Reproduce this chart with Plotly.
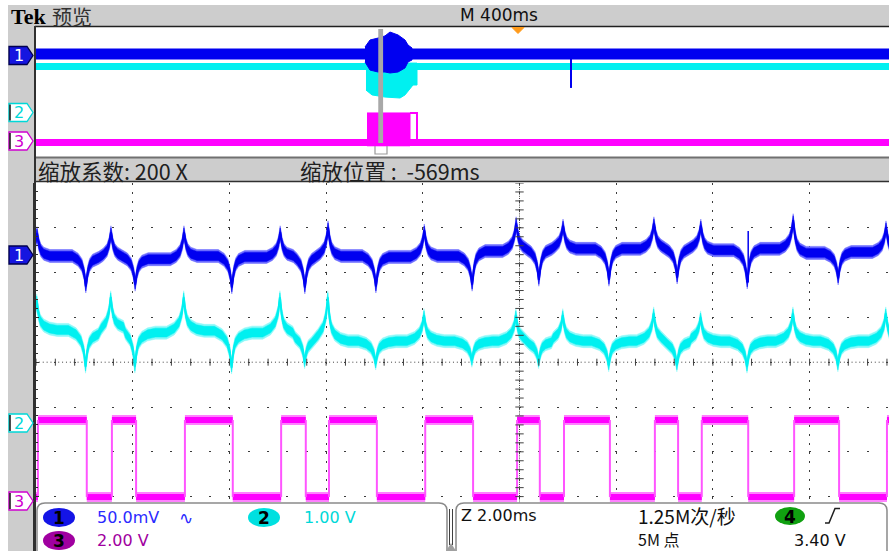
import plotly.graph_objects as go
import numpy as np

W, H = 889, 551

# ================= DATA =================
# Zoomed window (Z 2.00 ms/div): time in ms relative to the zoom position, amplitude in screen divisions
ch3_rise_ms = [-9.96, -8.43, -6.92, -4.93, -3.94, -1.95, -0.05, 0.92, 2.80, 3.77, 5.68, 7.60]
ch3_fall_ms = [-8.95, -7.93, -5.93, -4.42, -2.95, -0.96, 0.42, 1.87, 3.28, 4.73, 6.61]
ch3_high_div = -1.29
ch3_low_div = -3.01

# channel 1: spike tops at ch3 rising edges, bottoms at falling edges, baseline after each edge
ch1_peak_div = [2.88, 2.90, 2.90, 2.90, 3.01, 2.94, 3.10, 3.05, 3.10, 3.05, 3.17, 3.01]
ch1_dip_div = [1.69, 1.73, 1.67, 1.67, 1.69, 1.73, 1.84, 1.84, 1.89, 1.78, 1.87]
ch1_base_div = [2.37, 2.33, 2.37, 2.30, 2.37, 2.35, 2.37, 2.35, 2.37, 2.35, 2.37, 2.48,
                2.53, 2.53, 2.53, 2.53, 2.55, 2.53, 2.50, 2.53, 2.44, 2.46, 2.46]
ch1_glitch_ms = [4.73]
ch1_glitch_top_div = [2.93]

# channel 2
ch2_peak_div = [1.38, 1.45, 1.45, 1.45, 1.45, 1.05, 1.05, 1.05, 1.09, 1.00, 1.09, 1.09]
ch2_dip_div = [-0.10, -0.10, -0.12, 0.00, -0.03, 0.03, 0.00, -0.07, -0.07, -0.10, -0.07]
ch2_base_div = [0.72, 0.66, 0.75, 0.66, 0.70, 0.66, 0.62, 0.50, 0.47, 0.47, 0.47, 0.47,
                0.47, 0.47, 0.47, 0.47, 0.47, 0.47, 0.47, 0.47, 0.47, 0.47, 0.47]
noise_half_div = 0.10
halo_half_div = 0.145

# spike shapes: offset from edge (ms) and fraction of spike height
ch1_lead_ms = [-0.30, -0.18, -0.10, -0.05, -0.02]
ch1_lead_frac = [0.0, 0.12, 0.30, 0.60, 1.0]
ch1_tail_ms = [-0.02, 0.02, 0.06, 0.12, 0.25]
ch1_tail_frac = [1.0, 0.50, 0.25, 0.10, 0.0]
ch2_lead_ms = [-0.38, -0.22, -0.12, -0.06, -0.025]
ch2_lead_frac = [0.0, 0.12, 0.30, 0.58, 1.0]
ch2_tail_ms = [-0.025, 0.01, 0.05, 0.12, 0.24, 0.40]
ch2_tail_frac = [1.0, 0.55, 0.30, 0.15, 0.05, 0.0]

# Preview (M 400 ms/div): time in ms relative to trigger, amplitude in preview divisions
prev_ch1_div = 2.34
prev_ch2_div = 1.57
prev_ch3_div = -3.11
prev_ch3_high_div = -1.29
burst1_ms = [-632.9, -612.2, -579.1, -550.2, -529.5, -496.4, -467.4, -455.0, -438.5]
burst1_top_div = [2.77, 3.20, 3.32, 3.45, 3.69, 3.51, 3.20, 2.89, 2.71]
burst1_bot_div = [1.85, 1.35, 1.23, 1.23, 1.17, 1.23, 1.48, 1.85, 1.97]
burst2_ms = [-628.8, -603.9, -550.2, -488.1, -467.4, -446.7, -434.3, -417.8]
burst2_bot_div = [0.12, -0.18, -0.31, -0.37, -0.18, 0.25, 0.43, 0.43]
burst2_top_div = 1.78
burst3_block_ms = [-624.6, -446.7]
burst3_pulse_ms = [-446.7, -417.8]
glitch_prev_ms = [219.2]
glitch_prev_low_div = [0.25]
zoom_pos_ms = -569

# readouts
header_left = "预览"
header_mid = "M 400ms"
zoom_factor_txt = "缩放系数: 200 X"
zoom_pos_txt = "缩放位置 :  -569ms"
ch1_scale = "50.0mV"
ch2_scale = "1.00 V"
ch3_scale = "2.00 V"
timebase_txt = "Z 2.00ms"
rate_txt = "1.25M次/秒"
points_txt = "5M 点"
trig_txt = "3.40 V"

# ================= GEOMETRY =================
def X(px):
    return px / W

def Y(py):
    return 1 - py / H

def pth(pts, close=False):
    s = "M " + " L ".join(f"{X(a):.5f},{Y(b):.5f}" for a, b in pts)
    return s + (" Z" if close else "")

M_LEFT, M_TOP = 35, 183
PX_PER_MS = 48.35
PX_PER_DIV = 44.8
CX, CY = 519.5, 362.2
mx_range = [(M_LEFT - CX) / PX_PER_MS, (W - CX) / PX_PER_MS]
my_range = [-(H - CY) / PX_PER_DIV, (CY - M_TOP) / PX_PER_DIV]

P_TOP, P_BOT = 27, 157
P_PX_PER_MS = 0.24175
P_TRIG = 518
px_range = [(M_LEFT - P_TRIG) / P_PX_PER_MS, (W - P_TRIG) / P_PX_PER_MS]

# ================= WAVE BUILDER =================
def build_wave(peaks, dips, bases, lead_ms, lead_fr, tail_ms, tail_fr):
    ev = sorted([(t, v) for t, v in zip(ch3_rise_ms, peaks)] +
                [(t, v) for t, v in zip(ch3_fall_ms, dips)])
    times = [e[0] for e in ev]
    cx, cy = [mx_range[0] - 1], [bases[0]]
    for k, (t, v) in enumerate(ev):
        before = bases[k - 1] if k > 0 else bases[0]
        after = bases[k]
        lo = (times[k - 1] + t) / 2 if k > 0 else -1e9
        hi = (times[k + 1] + t) / 2 if k + 1 < len(ev) else 1e9
        for dx, f in zip(lead_ms, lead_fr):
            tt = t + dx
            if lo < tt and tt > cx[-1]:
                cx.append(tt); cy.append(before + f * (v - before))
        for dx, f in zip(tail_ms, tail_fr):
            tt = t + dx
            if tt < hi and tt >= cx[-1]:
                cx.append(tt); cy.append(after + f * (v - after))
    cx.append(mx_range[1] + 1); cy.append(bases[-1])
    return cx, cy

def band(cx, cy, h):
    return cx + cx[::-1], [v + h for v in cy] + [v - h for v in cy[::-1]]

fig = go.Figure()

# ---------- preview traces ----------
fig.add_trace(go.Scatter(x=[px_range[0] - 10, px_range[1] + 10], y=[prev_ch3_div] * 2, mode="lines",
                         line=dict(color="#FF00FF", width=7), xaxis="x", yaxis="y", hoverinfo="skip"))
bx3 = [burst3_block_ms[0], burst3_block_ms[1], burst3_block_ms[1], burst3_block_ms[0]]
by3 = [prev_ch3_high_div, prev_ch3_high_div, prev_ch3_div - 0.2, prev_ch3_div - 0.2]
fig.add_trace(go.Scatter(x=bx3, y=by3, fill="toself", fillcolor="#FF00FF", mode="lines",
                         line=dict(color="#FF00FF", width=1), xaxis="x", yaxis="y", hoverinfo="skip"))
fig.add_trace(go.Scatter(x=[burst3_pulse_ms[0], burst3_pulse_ms[1], burst3_pulse_ms[1]],
                         y=[prev_ch3_high_div, prev_ch3_high_div, prev_ch3_div],
                         mode="lines", line=dict(color="#FF00FF", width=2), xaxis="x", yaxis="y", hoverinfo="skip"))
fig.add_trace(go.Scatter(x=[px_range[0] - 10, burst2_ms[0], None, burst2_ms[-1], px_range[1] + 10],
                         y=[prev_ch2_div, prev_ch2_div, None, prev_ch2_div, prev_ch2_div], mode="lines",
                         line=dict(color="#00F0F0", width=7), xaxis="x", yaxis="y", hoverinfo="skip"))
fig.add_trace(go.Scatter(x=burst2_ms + burst2_ms[::-1], y=burst2_bot_div + [burst2_top_div] * len(burst2_ms),
                         fill="toself", fillcolor="#00F0F0", mode="lines", line=dict(color="#00F0F0", width=1),
                         xaxis="x", yaxis="y", hoverinfo="skip"))
fig.add_trace(go.Scatter(x=[px_range[0] - 10, px_range[1] + 10], y=[prev_ch1_div] * 2, mode="lines",
                         line=dict(color="#0000F0", width=11), xaxis="x", yaxis="y", hoverinfo="skip"))
fig.add_trace(go.Scatter(x=burst1_ms + burst1_ms[::-1], y=burst1_top_div + burst1_bot_div[::-1],
                         fill="toself", fillcolor="#0000F0", mode="lines", line=dict(color="#0000F0", width=1),
                         xaxis="x", yaxis="y", hoverinfo="skip"))
for t, lo in zip(glitch_prev_ms, glitch_prev_low_div):
    fig.add_trace(go.Scatter(x=[t, t], y=[prev_ch1_div, lo], mode="lines",
                             line=dict(color="#0000F0", width=2), xaxis="x", yaxis="y", hoverinfo="skip"))

# ---------- main window traces ----------
ev3 = sorted([(t, 1) for t in ch3_rise_ms] + [(t, 0) for t in ch3_fall_ms])
hx, hy, lx, ly, vx, vy = [], [], [], [], [], []
prev_t, state = mx_range[0] - 1, 0
for t, s in ev3 + [(mx_range[1] + 1, None)]:
    if state == 1:
        hx += [prev_t, t, None]; hy += [ch3_high_div, ch3_high_div, None]
    else:
        lx += [prev_t, t, None]; ly += [ch3_low_div, ch3_low_div, None]
    if s is not None:
        vx += [t, t, None]; vy += [ch3_low_div, ch3_high_div, None]
        state = s
    prev_t = t
for xs, ys in ((hx, hy), (lx, ly)):
    fig.add_trace(go.Scatter(x=xs, y=ys, mode="lines", line=dict(color="#FF80FF", width=10),
                             xaxis="x2", yaxis="y2", hoverinfo="skip"))
    fig.add_trace(go.Scatter(x=xs, y=ys, mode="lines", line=dict(color="#FF00FF", width=6),
                             xaxis="x2", yaxis="y2", hoverinfo="skip"))
fig.add_trace(go.Scatter(x=vx, y=vy, mode="lines", line=dict(color="#FF55FF", width=2),
                         xaxis="x2", yaxis="y2", hoverinfo="skip"))

for peaks, dips, bases, lms, lfr, tms, tfr, col, light in (
        (ch2_peak_div, ch2_dip_div, ch2_base_div, ch2_lead_ms, ch2_lead_frac, ch2_tail_ms, ch2_tail_frac,
         "#00F0F0", "#8CF8F8"),
        (ch1_peak_div, ch1_dip_div, ch1_base_div, ch1_lead_ms, ch1_lead_frac, ch1_tail_ms, ch1_tail_frac,
         "#0000F0", "#6A6AFF")):
    cx, cy = build_wave(peaks, dips, bases, lms, lfr, tms, tfr)
    for h, c in ((halo_half_div, light), (noise_half_div, col)):
        px_, py_ = band(cx, cy, h)
        fig.add_trace(go.Scatter(x=px_, y=py_, fill="toself", fillcolor=c, mode="lines",
                                 line=dict(color=c, width=0.5), xaxis="x2", yaxis="y2", hoverinfo="skip"))
    fig.add_trace(go.Scatter(x=cx, y=cy, mode="lines", line=dict(color=col, width=2),
                             xaxis="x2", yaxis="y2", hoverinfo="skip"))

for t, top in zip(ch1_glitch_ms, ch1_glitch_top_div):
    base = ch1_dip_div[ch3_fall_ms.index(t)]
    fig.add_trace(go.Scatter(x=[t, t], y=[base, top], mode="lines", line=dict(color="#0000F0", width=1.5),
                             xaxis="x2", yaxis="y2", hoverinfo="skip"))

# graticule centre ticks
gx = np.arange(-10, 8, 0.4)
fig.add_trace(go.Scatter(x=gx, y=[0] * len(gx), mode="markers",
                         marker=dict(symbol="line-ns", size=5, line=dict(color="#404040", width=1)),
                         xaxis="x2", yaxis="y2", hoverinfo="skip"))
gy = np.arange(-4.2, 4.01, 0.2)
fig.add_trace(go.Scatter(x=[0] * len(gy), y=gy, mode="markers",
                         marker=dict(symbol="line-ew", size=6, line=dict(color="#404040", width=1)),
                         xaxis="x2", yaxis="y2", hoverinfo="skip"))

# ================= SHAPES =================
shapes = []
GRAY = "#CDCDCD"
shapes.append(dict(type="rect", xref="paper", yref="paper", x0=X(8), x1=X(M_LEFT), y0=0, y1=Y(5),
                   fillcolor=GRAY, line=dict(width=0), layer="below"))
shapes.append(dict(type="rect", xref="paper", yref="paper", x0=X(8), x1=1, y0=Y(26), y1=Y(5),
                   fillcolor=GRAY, line=dict(width=0), layer="above"))
shapes.append(dict(type="line", xref="paper", yref="paper", x0=X(M_LEFT), x1=1, y0=Y(26.5), y1=Y(26.5),
                   line=dict(color="#202020", width=1.5), layer="above"))
shapes.append(dict(type="rect", xref="paper", yref="paper", x0=X(M_LEFT), x1=1, y0=Y(181), y1=Y(157.5),
                   fillcolor=GRAY, line=dict(width=0), layer="above"))
shapes.append(dict(type="line", xref="paper", yref="paper", x0=X(M_LEFT), x1=1, y0=Y(157.5), y1=Y(157.5),
                   line=dict(color="#707070", width=2), layer="above"))
shapes.append(dict(type="line", xref="paper", yref="paper", x0=X(M_LEFT), x1=1, y0=Y(181.5), y1=Y(181.5),
                   line=dict(color="#303030", width=1.5), layer="above"))
shapes.append(dict(type="line", xref="paper", yref="paper", x0=X(M_LEFT), x1=X(M_LEFT), y0=0, y1=Y(26),
                   line=dict(color="#303030", width=2), layer="above"))
shapes.append(dict(type="line", xref="x2", yref="y2", x0=mx_range[0], x1=mx_range[1], y0=0, y1=0,
                   line=dict(color="#404040", width=1, dash="1px,2.87px"), layer="below"))
shapes.append(dict(type="line", xref="x2", yref="y2", x0=0, x1=0, y0=my_range[0], y1=my_range[1],
                   line=dict(color="#404040", width=1, dash="1px,1.2px"), layer="below"))
shapes.append(dict(type="rect", xref="x", yref="paper", x0=zoom_pos_ms - 9, x1=zoom_pos_ms + 11,
                   y0=Y(143), y1=Y(29), fillcolor="#A8A8A8", line=dict(width=0), layer="above"))
shapes.append(dict(type="path", xref="paper", yref="paper",
                   path=pth([(375, 146), (375, 154), (387, 154), (387, 146)]),
                   line=dict(color="#9A9A9A", width=1.2), layer="above"))
shapes.append(dict(type="path", xref="paper", yref="paper",
                   path=pth([(512, 27.5), (524, 27.5), (518, 33.5)], True),
                   fillcolor="#FF9A1A", line=dict(color="#FF9A1A", width=1), layer="above"))
# readout area
shapes.append(dict(type="rect", xref="paper", yref="paper", x0=X(36), x1=1, y0=0, y1=Y(502.5),
                   fillcolor="white", line=dict(width=0), layer="above"))
for a, b in ((37, 447), (456, 887)):
    shapes.append(dict(type="path", xref="paper", yref="paper",
                       path=(f"M {X(a):.5f},{Y(560):.5f} L {X(a):.5f},{Y(511):.5f} "
                             f"Q {X(a):.5f},{Y(503):.5f} {X(a + 8):.5f},{Y(503):.5f} "
                             f"L {X(b - 8):.5f},{Y(503):.5f} Q {X(b):.5f},{Y(503):.5f} {X(b):.5f},{Y(511):.5f} "
                             f"L {X(b):.5f},{Y(560):.5f}"),
                       line=dict(color="#8A8A8A", width=1.5), layer="above"))
for xx in (449.5, 452.5):
    shapes.append(dict(type="line", xref="paper", yref="paper", x0=X(xx), x1=X(xx), y0=Y(545), y1=Y(509),
                       line=dict(color="#404040", width=1), layer="above"))
shapes.append(dict(type="path", xref="paper", yref="paper", path=pth([(446, 551), (456, 551), (451, 543)], True),
                   fillcolor="#A0A0A0", line=dict(width=0), layer="above"))
ovals = [((43, 75, 508, 527), "#1414E6", "1"), ((248, 280, 508, 527), "#00E0E0", "2"),
         ((43, 75, 531, 550), "#A000A0", "3"), ((775, 805, 507, 525), "#10A010", "4")]
for (x0, x1, y0, y1), col, _ in ovals:
    shapes.append(dict(type="circle", xref="paper", yref="paper", x0=X(x0), x1=X(x1), y0=Y(y1), y1=Y(y0),
                       fillcolor=col, line=dict(width=0), layer="above"))
shapes.append(dict(type="path", xref="paper", yref="paper",
                   path=pth([(825, 523), (829, 523), (835, 508.5), (840, 508.5)]),
                   line=dict(color="#202020", width=1.5), layer="above"))
markers = [(55.5, "#1515E0", "#000050", "1", "white"),
           (112.5, "white", "#00D8D8", "2", "#00D8D8"),
           (141, "white", "#D000D0", "3", "#D000D0"),
           (255, "#1515E0", "#000050", "1", "white"),
           (423, "white", "#00D8D8", "2", "#00D8D8"),
           (501, "white", "#D000D0", "3", "#D000D0")]
for py, fill, stroke, _, _ in markers:
    shapes.append(dict(type="path", xref="paper", yref="paper",
                       path=pth([(9, py - 9), (27, py - 9), (33, py), (27, py + 9), (9, py + 9)], True),
                       fillcolor=fill, line=dict(color=stroke, width=1.3), layer="above"))
    if fill == "white":
        shapes.append(dict(type="line", xref="paper", yref="paper", x0=X(10), x1=X(10), y0=Y(py + 8),
                           y1=Y(py - 8), line=dict(color="#101010", width=1.5), layer="above"))

# ================= TEXT =================
ann = []
def txt(x, y, s, size=16, color="#101010", family="DejaVu Sans", anchor="left"):
    ann.append(dict(x=X(x), y=Y(y), xref="paper", yref="paper", text=s, showarrow=False,
                    xanchor=anchor, yanchor="middle", font=dict(size=size, color=color, family=family)))

txt(9, 16, "<b>Tek</b>", 22, "#000000", "Liberation Serif")
txt(50, 16, header_left, 20, "#303030", "Noto Sans CJK SC")
txt(458, 15, header_mid, 17, "#101010")
txt(36, 170, zoom_factor_txt, 21.5, "#202020", "Noto Sans CJK SC")
txt(298, 170, zoom_pos_txt, 21.5, "#202020", "Noto Sans CJK SC")
txt(95, 517, ch1_scale, 16, "#2A2AFF")
txt(177, 518, "∿", 17, "#2A2AFF")
txt(302, 517, ch2_scale, 16, "#00D8D8")
txt(95, 540, ch3_scale, 16, "#A000A0")
txt(459, 515, timebase_txt, 16, "#101010")
txt(636, 515, rate_txt, 19, "#101010", "Noto Sans CJK SC")
txt(636, 538.5, points_txt, 16, "#101010", "Noto Sans CJK SC")
txt(792, 540, trig_txt, 16, "#101010")
for (x0, x1, y0, y1), _, s in ovals:
    txt((x0 + x1) / 2, (y0 + y1) / 2 + 0.5, "<b>" + s + "</b>", 17, "#000000", "DejaVu Sans", "center")
for py, _, _, s, tc in markers:
    txt(18.5, py + 0.5, s, 16, tc, "DejaVu Sans", "center")

# ================= LAYOUT =================
fig.update_layout(
    width=W, height=H, margin=dict(l=0, r=0, t=0, b=0), autosize=False,
    paper_bgcolor="white", plot_bgcolor="rgba(0,0,0,0)", showlegend=False,
    xaxis=dict(domain=[X(M_LEFT), 1], range=px_range, visible=False, fixedrange=True),
    yaxis=dict(domain=[Y(P_BOT), Y(P_TOP)], range=[-4, 4], visible=False, fixedrange=True),
    xaxis2=dict(domain=[X(M_LEFT), 1], range=mx_range, anchor="y2", showticklabels=False, ticks="",
                showgrid=True, gridcolor="#3C3C3C", gridwidth=1, griddash="2px,6.96px",
                dtick=2, tick0=0, zeroline=False, showline=False, fixedrange=True),
    yaxis2=dict(domain=[0, Y(M_TOP)], range=my_range, anchor="x2", showticklabels=False,
                ticks="inside", ticklen=4, tickcolor="#303030", dtick=1, tick0=0,
                minor=dict(ticks="inside", ticklen=3, dtick=0.2, tick0=0, tickcolor="#303030", showgrid=False),
                showgrid=True, gridcolor="#3C3C3C", gridwidth=1, griddash="2px,17.34px",
                zeroline=False, showline=True, linecolor="#303030", linewidth=2, fixedrange=True),
    shapes=shapes, annotations=ann,
)

fig.write_html("out.html", config={"displayModeBar": False, "staticPlot": True},
               post_script="document.body.style.margin='0px';")
